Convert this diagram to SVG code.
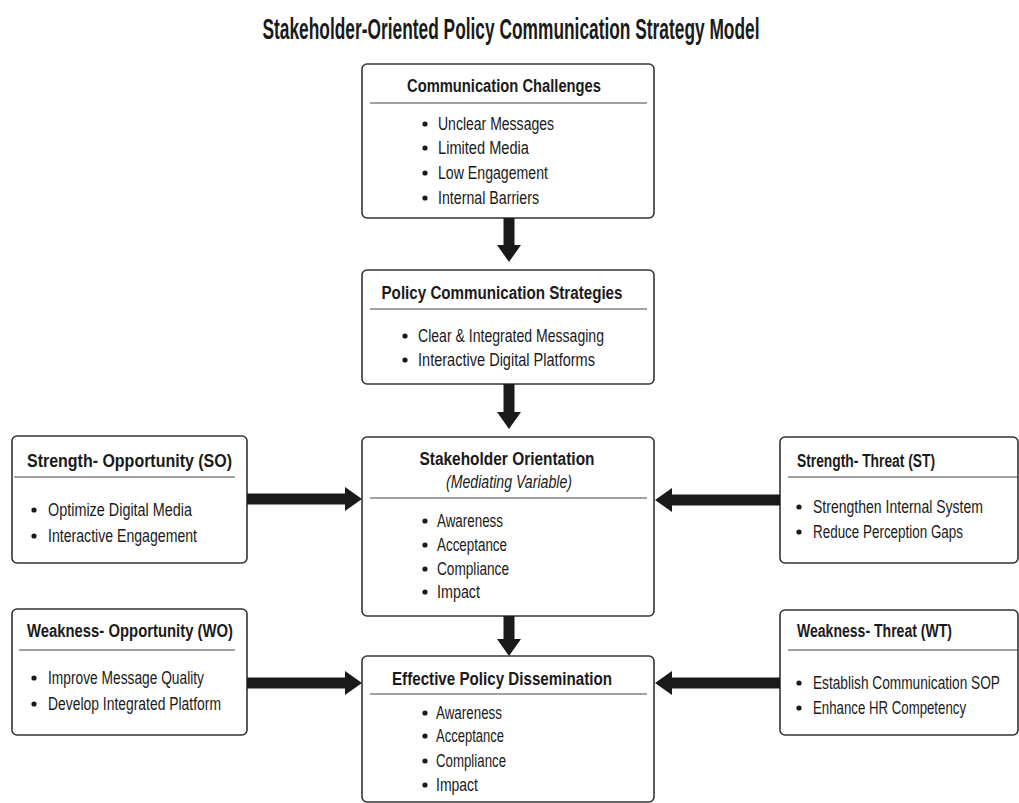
<svg xmlns="http://www.w3.org/2000/svg" width="1019" height="803" viewBox="0 0 1019 803">
<defs>
<style>
.box{fill:#fff;stroke:#333;stroke-width:1.6}
.div{stroke:#444;stroke-width:1.2}
text{font-family:"Liberation Sans",Arial,sans-serif;fill:#1a1a1a}
.title{font-size:29px;font-weight:bold;text-anchor:middle}
.h{font-size:18px;font-weight:bold}
.hc{font-size:18px;font-weight:bold;text-anchor:middle}
.sub{font-size:17.5px;font-style:italic;text-anchor:middle}
.b{font-size:17.5px}
.dot{fill:#1a1a1a}
.arr{stroke:#1a1a1a;stroke-width:11;fill:none}
</style>
<marker id="head" markerUnits="userSpaceOnUse" markerWidth="17" markerHeight="24" viewBox="0 0 17 24" refX="0" refY="12" orient="auto">
<path d="M0,0 L17,12 L0,24 z" fill="#1a1a1a"/>
</marker>
</defs>
<rect width="1019" height="803" fill="#fff"/>
<text class="title" x="511" y="39" textLength="497" lengthAdjust="spacingAndGlyphs">Stakeholder-Oriented Policy Communication Strategy Model</text>

<g id="challenges">
<rect class="box" x="362" y="64" width="292" height="154" rx="5"/>
<text class="hc" x="504" y="92" textLength="194" lengthAdjust="spacingAndGlyphs">Communication Challenges</text>
<line class="div" x1="370" y1="103" x2="647" y2="103"/>
<circle class="dot" cx="425" cy="124" r="2.6"/><text class="b" x="438" y="130" textLength="116" lengthAdjust="spacingAndGlyphs">Unclear Messages</text>
<circle class="dot" cx="425" cy="148" r="2.6"/><text class="b" x="438" y="154" textLength="91" lengthAdjust="spacingAndGlyphs">Limited Media</text>
<circle class="dot" cx="425" cy="173" r="2.6"/><text class="b" x="438" y="179" textLength="110" lengthAdjust="spacingAndGlyphs">Low Engagement</text>
<circle class="dot" cx="425" cy="198" r="2.6"/><text class="b" x="438" y="204" textLength="101" lengthAdjust="spacingAndGlyphs">Internal Barriers</text>
</g>

<g id="strategies">
<rect class="box" x="362" y="270" width="292" height="114" rx="5"/>
<text class="hc" x="502" y="299" textLength="241" lengthAdjust="spacingAndGlyphs">Policy Communication Strategies</text>
<line class="div" x1="370" y1="309" x2="647" y2="309"/>
<circle class="dot" cx="405" cy="336" r="2.6"/><text class="b" x="418" y="342" textLength="186" lengthAdjust="spacingAndGlyphs">Clear &amp; Integrated Messaging</text>
<circle class="dot" cx="405" cy="360" r="2.6"/><text class="b" x="418" y="366" textLength="177" lengthAdjust="spacingAndGlyphs">Interactive Digital Platforms</text>
</g>

<g id="orientation">
<rect class="box" x="362" y="437" width="292" height="179" rx="5"/>
<text class="hc" x="507" y="465" textLength="175" lengthAdjust="spacingAndGlyphs">Stakeholder Orientation</text>
<text class="sub" x="509" y="488" textLength="126" lengthAdjust="spacingAndGlyphs">(Mediating Variable)</text>
<line class="div" x1="370" y1="498" x2="647" y2="498"/>
<circle class="dot" cx="425" cy="521" r="2.6"/><text class="b" x="437" y="527" textLength="66" lengthAdjust="spacingAndGlyphs">Awareness</text>
<circle class="dot" cx="425" cy="545" r="2.6"/><text class="b" x="437" y="551" textLength="70" lengthAdjust="spacingAndGlyphs">Acceptance</text>
<circle class="dot" cx="425" cy="569" r="2.6"/><text class="b" x="437" y="575" textLength="72" lengthAdjust="spacingAndGlyphs">Compliance</text>
<circle class="dot" cx="425" cy="592" r="2.6"/><text class="b" x="437" y="598" textLength="43" lengthAdjust="spacingAndGlyphs">Impact</text>
</g>

<g id="dissemination">
<rect class="box" x="362" y="656" width="292" height="146" rx="5"/>
<text class="hc" x="502" y="685" textLength="220" lengthAdjust="spacingAndGlyphs">Effective Policy Dissemination</text>
<line class="div" x1="370" y1="694" x2="647" y2="694"/>
<circle class="dot" cx="425" cy="713" r="2.6"/><text class="b" x="436" y="719" textLength="66" lengthAdjust="spacingAndGlyphs">Awareness</text>
<circle class="dot" cx="425" cy="736" r="2.6"/><text class="b" x="436" y="742" textLength="68" lengthAdjust="spacingAndGlyphs">Acceptance</text>
<circle class="dot" cx="425" cy="761" r="2.6"/><text class="b" x="436" y="767" textLength="70" lengthAdjust="spacingAndGlyphs">Compliance</text>
<circle class="dot" cx="425" cy="785" r="2.6"/><text class="b" x="436" y="791" textLength="42" lengthAdjust="spacingAndGlyphs">Impact</text>
</g>

<g id="so">
<rect class="box" x="12" y="436" width="235" height="127" rx="5"/>
<text class="h" x="27" y="467" textLength="205" lengthAdjust="spacingAndGlyphs">Strength- Opportunity (SO)</text>
<line class="div" x1="14" y1="477" x2="235" y2="477"/>
<circle class="dot" cx="34" cy="510" r="2.6"/><text class="b" x="48" y="516" textLength="144" lengthAdjust="spacingAndGlyphs">Optimize Digital Media</text>
<circle class="dot" cx="34" cy="536" r="2.6"/><text class="b" x="48" y="542" textLength="149" lengthAdjust="spacingAndGlyphs">Interactive Engagement</text>
</g>

<g id="st">
<rect class="box" x="780" y="437" width="238" height="126" rx="5"/>
<text class="h" x="797" y="467" textLength="138" lengthAdjust="spacingAndGlyphs">Strength- Threat (ST)</text>
<line class="div" x1="788" y1="477" x2="1018" y2="477"/>
<circle class="dot" cx="799" cy="507" r="2.6"/><text class="b" x="813" y="513" textLength="170" lengthAdjust="spacingAndGlyphs">Strengthen Internal System</text>
<circle class="dot" cx="799" cy="532" r="2.6"/><text class="b" x="813" y="538" textLength="150" lengthAdjust="spacingAndGlyphs">Reduce Perception Gaps</text>
</g>

<g id="wo">
<rect class="box" x="12" y="609" width="235" height="126" rx="5"/>
<text class="h" x="27" y="637" textLength="206" lengthAdjust="spacingAndGlyphs">Weakness- Opportunity (WO)</text>
<line class="div" x1="19" y1="650" x2="235" y2="650"/>
<circle class="dot" cx="34" cy="678" r="2.6"/><text class="b" x="48" y="684" textLength="156" lengthAdjust="spacingAndGlyphs">Improve Message Quality</text>
<circle class="dot" cx="34" cy="704" r="2.6"/><text class="b" x="48" y="710" textLength="173" lengthAdjust="spacingAndGlyphs">Develop Integrated Platform</text>
</g>

<g id="wt">
<rect class="box" x="780" y="610" width="238" height="125" rx="5"/>
<text class="h" x="797" y="637" textLength="155" lengthAdjust="spacingAndGlyphs">Weakness- Threat (WT)</text>
<line class="div" x1="788" y1="650" x2="1018" y2="650"/>
<circle class="dot" cx="799" cy="683" r="2.6"/><text class="b" x="813" y="689" textLength="187" lengthAdjust="spacingAndGlyphs">Establish Communication SOP</text>
<circle class="dot" cx="799" cy="708" r="2.6"/><text class="b" x="813" y="714" textLength="153" lengthAdjust="spacingAndGlyphs">Enhance HR Competency</text>
</g>

<g id="connectors">
<line class="arr" x1="509" y1="218" x2="509" y2="245" marker-end="url(#head)"/>
<line class="arr" x1="509" y1="384" x2="509" y2="412" marker-end="url(#head)"/>
<line class="arr" x1="509" y1="616" x2="509" y2="639" marker-end="url(#head)"/>
<line class="arr" x1="247" y1="499" x2="345" y2="499" marker-end="url(#head)"/>
<line class="arr" x1="780" y1="500" x2="672" y2="500" marker-end="url(#head)"/>
<line class="arr" x1="247" y1="683" x2="345" y2="683" marker-end="url(#head)"/>
<line class="arr" x1="780" y1="683" x2="672" y2="683" marker-end="url(#head)"/>
</g>
</svg>
